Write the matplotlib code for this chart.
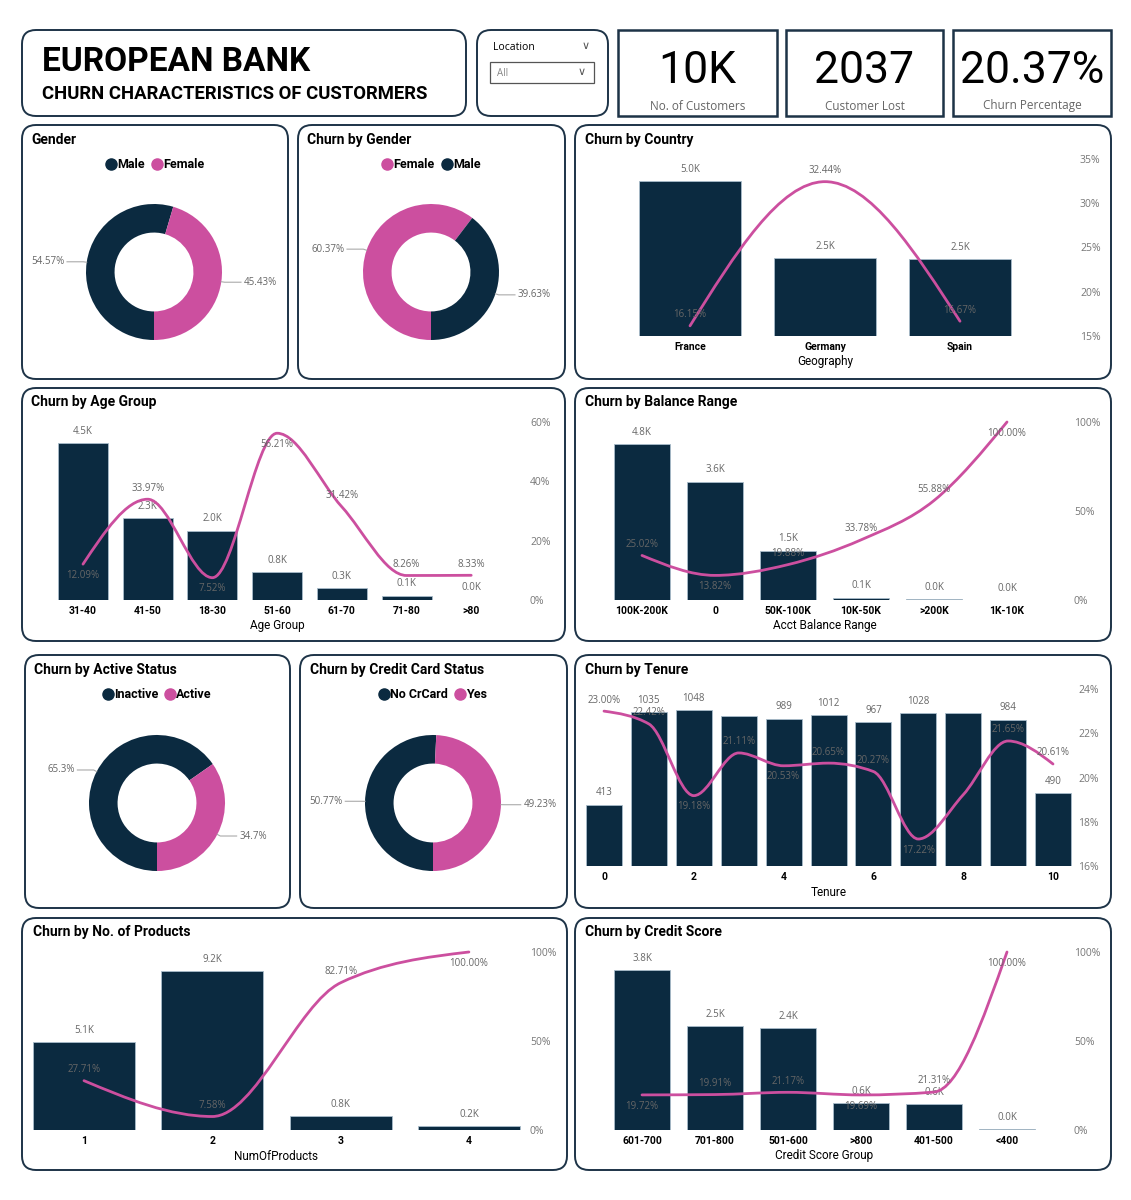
import matplotlib
matplotlib.use('Agg')
import matplotlib.pyplot as plt
from matplotlib.patches import FancyBboxPatch, PathPatch
from matplotlib.path import Path
from matplotlib.lines import Line2D
import numpy as np

NAVY = '#0b2a40'
PINK = '#cc4f9f'
BORDER = '#1d3347'
GRAY = '#666666'
TITLE_FONT = ['Roboto', 'DejaVu Sans']
LABEL_FONT = ['Open Sans', 'DejaVu Sans']

# KPI cards
kpi_values = ['10K', '2037', '20.37%']
kpi_labels = ['No. of Customers', 'Customer Lost', 'Churn Percentage']

# donuts
gender_labels = ['Male', 'Female']
gender_share = [54.57, 45.43]
churn_gender_labels = ['Female', 'Male']
churn_gender_share = [60.37, 39.63]
active_labels = ['Inactive', 'Active']
active_share = [65.3, 34.7]
crcard_labels = ['No CrCard', 'Yes']
crcard_share = [50.77, 49.23]

# combo charts: customer count (bars) and churn rate % (line)
country = ['France', 'Germany', 'Spain']
country_count = [5014, 2509, 2477]
country_churn = [16.15, 32.44, 16.67]

age_group = ['31-40', '41-50', '18-30', '51-60', '61-70', '71-80', '>80']
age_count = [4451, 2320, 1968, 797, 331, 121, 12]
age_churn = [12.09, 33.97, 7.52, 56.21, 31.42, 8.26, 8.33]

balance_range = ['100K-200K', '0', '50K-100K', '10K-50K', '>200K', '1K-10K']
balance_count = [4765, 3617, 1509, 74, 34, 1]
balance_churn = [25.02, 13.82, 19.88, 33.78, 55.88, 100.00]

tenure = [0, 1, 2, 3, 4, 5, 6, 7, 8, 9, 10]
tenure_count = [413, 1035, 1048, 1009, 989, 1012, 967, 1028, 1025, 984, 490]
tenure_churn = [23.00, 22.42, 19.18, 21.11, 20.53, 20.65, 20.27, 17.22, 19.22, 21.65, 20.61]

products = ['1', '2', '3', '4']
products_count = [5084, 9180, 798, 240]
products_churn = [27.71, 7.58, 82.71, 100.00]

credit_group = ['601-700', '701-800', '501-600', '>800', '401-500', '<400']
credit_count = [3818, 2480, 2424, 640, 619, 19]
credit_churn = [19.72, 19.91, 21.17, 19.69, 21.31, 100.00]

W, H = 1131, 1200
fig = plt.figure(figsize=(W / 100, H / 100), dpi=100)
fig.patch.set_facecolor('white')


def box(x0, y0, x1, y1, rounded=True, lw=1.4):
    style = 'round,pad=0,rounding_size=0.14' if rounded else 'square,pad=0'
    p = FancyBboxPatch((x0 / 100, (H - y1) / 100), (x1 - x0) / 100, (y1 - y0) / 100,
                       boxstyle=style, transform=fig.dpi_scale_trans,
                       facecolor='white', edgecolor=BORDER, linewidth=lw, zorder=-5)
    fig.add_artist(p)


def ftext(x, y, s, **kw):
    return fig.text(x / W, 1 - y / H, s, **kw)


def title(x, y, s):
    ftext(x, y, s, fontsize=10, fontweight='bold', family=TITLE_FONT, va='center', color='black')


def monotone_path(x, y):
    # monotone cubic (like Power BI's smoothed line) as bezier segments
    x = np.asarray(x, float)
    y = np.asarray(y, float)
    n = len(x)
    s = np.diff(y) / np.diff(x)
    m = np.zeros(n)
    for i in range(1, n - 1):
        h0, h1 = x[i] - x[i - 1], x[i + 1] - x[i]
        p = (s[i - 1] * h1 + s[i] * h0) / (h0 + h1)
        m[i] = (np.sign(s[i - 1]) + np.sign(s[i])) * min(abs(s[i - 1]), abs(s[i]), 0.5 * abs(p))
    m[0] = (3 * s[0] - m[1]) / 2
    m[-1] = (3 * s[-1] - m[-2]) / 2
    verts = [(x[0], y[0])]
    codes = [Path.MOVETO]
    for i in range(n - 1):
        dx = (x[i + 1] - x[i]) / 3
        verts += [(x[i] + dx, y[i] + dx * m[i]), (x[i + 1] - dx, y[i + 1] - dx * m[i + 1]), (x[i + 1], y[i + 1])]
        codes += [Path.CURVE4] * 3
    return Path(verts, codes)


def combo(cats, counts, rates, c0, sp, bw, top, bottom, x_left, x_right, lab_left,
          cmax, rlim, rticks, xlabel, fmt, pct_side, cnt_hide=(), pct_hide=(), tick_idx=None):
    n = len(cats)
    ax = fig.add_axes([x_left / W, 1 - bottom / H, (x_right - x_left) / W, (bottom - top) / H])
    ax.patch.set_alpha(0)
    xs = np.arange(n)
    ax.bar(xs, counts, width=bw / sp, color=NAVY, edgecolor='#a9bccb', linewidth=0.6)
    ax.set_xlim((x_left - c0) / sp, (x_right - c0) / sp)
    ax.set_ylim(0, cmax)
    ax.set_yticks([])
    if tick_idx is None:
        tick_idx = list(range(n))
    ax.set_xticks([xs[i] for i in tick_idx])
    ax.set_xticklabels([cats[i] for i in tick_idx], fontsize=7.5, fontweight='bold', family=TITLE_FONT)
    ax.tick_params(axis='x', length=0, pad=4.5)
    ax.set_xlabel(xlabel, fontsize=8.5, family=TITLE_FONT)
    c_mid = c0 + sp * (n - 1) / 2
    ax.xaxis.set_label_coords((c_mid - x_left) / (x_right - x_left), -26 / (bottom - top))
    ax.xaxis.label.set_va('center')
    for sp_ in ax.spines.values():
        sp_.set_visible(False)
    for i, v in enumerate(counts):
        if i in cnt_hide:
            continue
        ax.annotate(fmt(v), (xs[i], v), xytext=(0, 8.5), textcoords='offset points',
                    ha='center', va='center', fontsize=7, color=GRAY, family=LABEL_FONT)

    ax2 = ax.twinx()
    ax2.set_ylim(*rlim)
    ax2.set_yticks(rticks)
    ax2.set_yticklabels([f'{t}%' for t in rticks], fontsize=7.5, color='#777777', family=LABEL_FONT)
    ax2.tick_params(axis='y', length=0, pad=(lab_left - x_right) * 0.72)
    for sp_ in ax2.spines.values():
        sp_.set_visible(False)
    ax2.add_patch(PathPatch(monotone_path(xs, rates), fill=False, edgecolor=PINK,
                            linewidth=2.0, clip_on=False, capstyle='round'))
    for i, r in enumerate(rates):
        if i in pct_hide:
            continue
        ax2.annotate(f'{r:.2f}%', (xs[i], r), xytext=(0, 8 * pct_side[i]), textcoords='offset points',
                     ha='center', va='center', fontsize=7, color=GRAY, family=LABEL_FONT)
    return ax


def donut(cx, cy, labels, shares, colors, legend_x, legend_y):
    R, S = 68, 130
    ax = fig.add_axes([(cx - S) / W, 1 - (cy + S) / H, 2 * S / W, 2 * S / H])
    ax.patch.set_alpha(0)
    wedges, _ = ax.pie(shares, colors=colors, startangle=-90, counterclock=False, radius=1,
                       wedgeprops=dict(width=0.42, edgecolor='none'))
    lim = S / R
    ax.set_xlim(-lim, lim)
    ax.set_ylim(-lim, lim)
    for w, v in zip(wedges, shares):
        th = np.deg2rad((w.theta1 + w.theta2) / 2)
        c, s = np.cos(th), np.sin(th)
        side = 1 if c >= 0 else -1
        p1 = (c * 1.0, s * 1.0)
        p2 = (c * 1.05, s * 1.05)
        p3 = (p2[0] + side * 0.24, p2[1])
        ax.plot([p1[0], p2[0], p3[0]], [p1[1], p2[1], p3[1]], color='#aaaaaa', lw=0.8, clip_on=False)
        ax.text(p3[0] + side * 0.04, p3[1], f'{v:g}%', ha='left' if side > 0 else 'right',
                va='center', fontsize=7, color=GRAY, family=LABEL_FONT)
    handles = [Line2D([], [], marker='o', linestyle='none', markerfacecolor=col,
                      markeredgecolor=col, markersize=8) for col in colors]
    fig.legend(handles, labels, loc='center', bbox_to_anchor=(legend_x / W, 1 - legend_y / H),
               ncol=len(labels), frameon=False, handletextpad=0.05, columnspacing=0.5,
               handlelength=0.9, prop=dict(family=TITLE_FONT, weight='bold', size=9))


def kfmt(v):
    return f'{v / 1000:.1f}K'


# header
box(22, 30, 466, 116)
ftext(42, 62, 'EUROPEAN BANK', fontsize=24, fontweight='bold', family=TITLE_FONT, va='center')
ftext(42, 94, 'CHURN CHARACTERISTICS OF CUSTORMERS', fontsize=13.3, fontweight='bold',
      family=TITLE_FONT, va='center')

# location slicer
box(477, 30, 608, 116)
ftext(493, 47, 'Location', fontsize=7.5, family=LABEL_FONT, va='center')
ftext(586, 46, '\u2228', fontsize=8, color='#555555', va='center', ha='center')
fig.add_artist(FancyBboxPatch((490 / 100, (H - 83) / 100), 104 / 100, 21 / 100,
                              boxstyle='square,pad=0', transform=fig.dpi_scale_trans,
                              facecolor='white', edgecolor='#555555', linewidth=0.9))
ftext(497, 73, 'All', fontsize=7, color='#888888', family=LABEL_FONT, va='center')
ftext(582, 72, '\u2228', fontsize=8, color='#555555', va='center', ha='center')

# KPI cards
for (x0, x1), val, lab in zip([(618, 777), (786, 943), (953, 1111)], kpi_values, kpi_labels):
    box(x0, 30, x1, 116, rounded=False, lw=1.8)
    ftext((x0 + x1) / 2, 71, val, fontsize=32, family=TITLE_FONT, ha='center', va='center', color='black')
    ftext((x0 + x1) / 2, 106, lab, fontsize=8.5, family=LABEL_FONT, ha='center', va='center', color='#666666')

# panels
box(22, 125, 288, 379)
box(298, 125, 565, 379)
box(575, 125, 1111, 379)
box(22, 388, 565, 641)
box(575, 388, 1111, 641)
box(25, 655, 290, 908)
box(300, 655, 567, 908)
box(575, 655, 1111, 908)
box(22, 918, 567, 1170)
box(575, 918, 1111, 1170)

title(31, 140, 'Gender')
title(307, 140, 'Churn by Gender')
title(585, 140, 'Churn by Country')
title(31, 402, 'Churn by Age Group')
title(585, 402, 'Churn by Balance Range')
title(34, 670, 'Churn by Active Status')
title(310, 670, 'Churn by Credit Card Status')
title(585, 670, 'Churn by Tenure')
title(33, 932, 'Churn by No. of Products')
title(585, 932, 'Churn by Credit Score')

donut(154, 272, gender_labels, gender_share, [NAVY, PINK], 155, 165)
donut(431, 272, churn_gender_labels, churn_gender_share, [PINK, NAVY], 431, 165)
donut(157, 803, active_labels, active_share, [NAVY, PINK], 157, 695)
donut(433, 803, crcard_labels, crcard_share, [NAVY, PINK], 433, 695)

combo(country, country_count, country_churn, c0=690, sp=135, bw=102, top=159, bottom=336,
      x_left=600, x_right=1074, lab_left=1080, cmax=5726, rlim=(15, 35), rticks=[15, 20, 25, 30, 35],
      xlabel='Geography', fmt=kfmt, pct_side=[1, 1, 1])

combo(age_group, age_count, age_churn, c0=83, sp=64.7, bw=50, top=422, bottom=600,
      x_left=40, x_right=526, lab_left=530, cmax=5046, rlim=(0, 60), rticks=[0, 20, 40, 60],
      xlabel='Age Group', fmt=kfmt, pct_side=[-1, 1, -1, -1, 1, 1, 1])

combo(balance_range, balance_count, balance_churn, c0=642, sp=73, bw=56, top=422, bottom=600,
      x_left=600, x_right=1070, lab_left=1074, cmax=5437, rlim=(0, 100), rticks=[0, 50, 100],
      xlabel='Acct Balance Range', fmt=kfmt, pct_side=[1, -1, 1, 1, 1, -1])

combo(tenure, tenure_count, tenure_churn, c0=604, sp=44.9, bw=36, top=689, bottom=866,
      x_left=582, x_right=1074, lab_left=1078, cmax=1189, rlim=(16, 24), rticks=[16, 18, 20, 22, 24],
      xlabel='Tenure', fmt=lambda v: f'{v}', pct_side=[1, 1, -1, 1, -1, 1, 1, -1, 1, 1, 1],
      cnt_hide=(3, 8), pct_hide=(8,), tick_idx=[0, 2, 4, 6, 8, 10])

combo(products, products_count, products_churn, c0=84, sp=128.3, bw=102, top=952, bottom=1130,
      x_left=30, x_right=526, lab_left=530, cmax=10277, rlim=(0, 100), rticks=[0, 50, 100],
      xlabel='NumOfProducts', fmt=kfmt, pct_side=[1, 1, 1, -1])

combo(credit_group, credit_count, credit_churn, c0=642, sp=73, bw=56, top=952, bottom=1130,
      x_left=600, x_right=1070, lab_left=1074, cmax=4248, rlim=(0, 100), rticks=[0, 50, 100],
      xlabel='Credit Score Group', fmt=kfmt, pct_side=[-1, 1, 1, -1, 1, -1])

fig.savefig('out.png', dpi=100, facecolor='white')
